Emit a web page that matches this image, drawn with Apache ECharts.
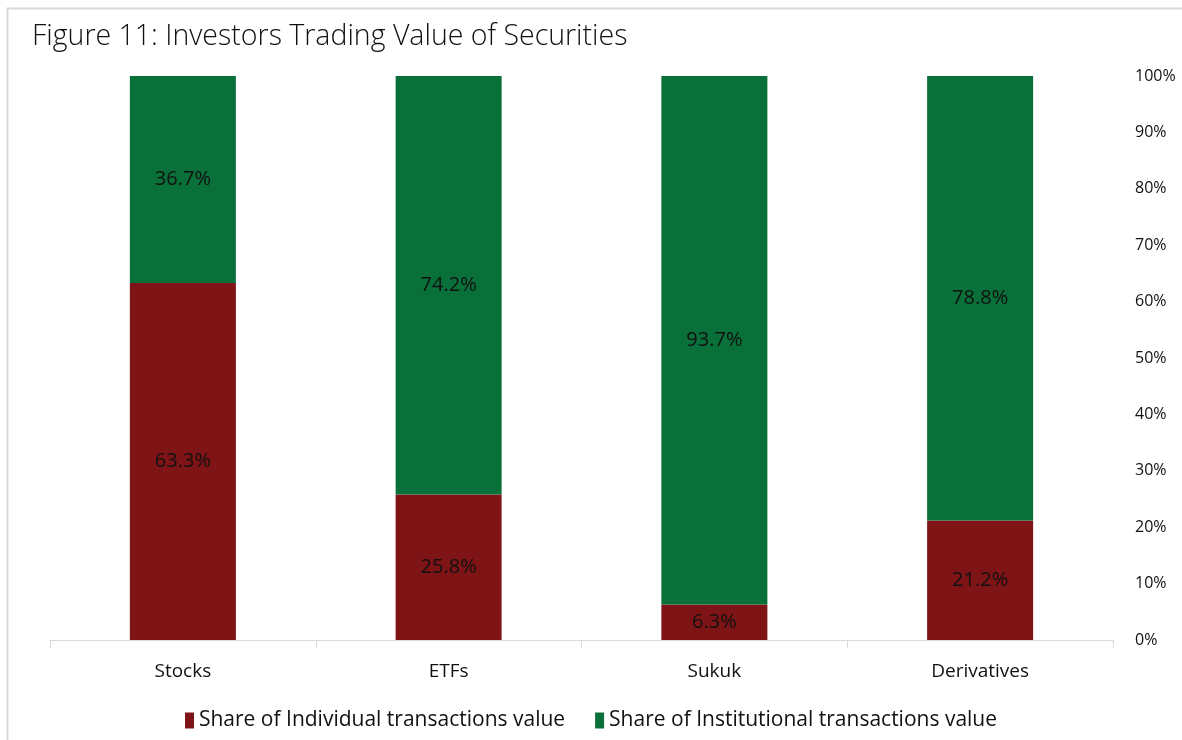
<!DOCTYPE html>
<html>
<head>
<meta charset="utf-8">
<script src="https://cdn.jsdelivr.net/npm/echarts@6/dist/echarts.min.js"></script>
<style>
html,body{margin:0;padding:0;background:#fff;}
#chart{width:1182px;height:740px;}
</style>
</head>
<body>
<div id="chart"></div>
<script>
const categories = ['Stocks', 'ETFs', 'Sukuk', 'Derivatives'];
const individualShare = [63.3, 25.8, 6.3, 21.2];
const institutionalShare = [36.7, 74.2, 93.7, 78.8];
const seriesNames = ['Share of Individual transactions value', 'Share of Institutional transactions value'];
const yTicks = [0, 10, 20, 30, 40, 50, 60, 70, 80, 90, 100];

const FONT = '"Open Sans", "Noto Sans", sans-serif';
const chart = echarts.init(document.getElementById('chart'));
const labelCfg = {
  show: true,
  position: 'inside',
  color: '#111',
  fontSize: 20,
  fontFamily: FONT,
  formatter: p => p.value.toFixed(1) + '%'
};
chart.setOption({
  backgroundColor: '#fff',
  animation: false,
  graphic: [{
    type: 'rect',
    shape: { x: 7.5, y: 8.5, width: 1300, height: 900 },
    style: { fill: 'none', stroke: '#d9d9d9', lineWidth: 2 },
    silent: true
  }],
  title: {
    text: 'Figure 11: Investors Trading Value of Securities',
    left: 27, top: 17,
    textStyle: { fontFamily: FONT, fontWeight: 300, fontSize: 28.5, color: '#111' }
  },
  legend: {
    bottom: 4, left: 'center',
    itemWidth: 9, itemHeight: 16, itemGap: 30,
    icon: 'rect',
    textStyle: { fontFamily: FONT, fontSize: 21, color: '#111' },
    data: seriesNames
  },
  grid: { left: 50, right: 69, top: 76, bottom: 100 },
  xAxis: {
    type: 'category',
    data: categories,
    axisLine: { lineStyle: { color: '#d9d9d9', width: 1 } },
    axisTick: { show: true, length: 8, lineStyle: { color: '#d9d9d9' } },
    axisLabel: { fontFamily: FONT, fontSize: 19, color: '#111', margin: 22 }
  },
  yAxis: {
    type: 'value',
    position: 'right',
    min: 0, max: 100, interval: 10,
    splitLine: { show: false },
    axisLine: { show: false },
    axisTick: { show: false },
    axisLabel: {
      fontFamily: FONT, fontSize: 16, color: '#111', margin: 22,
      formatter: v => yTicks.includes(v) ? v + '%' : ''
    }
  },
  series: [{
    name: seriesNames[0],
    type: 'bar', stack: 'total',
    barWidth: 106,
    data: individualShare,
    itemStyle: { color: '#7f1416' },
    label: labelCfg
  }, {
    name: seriesNames[1],
    type: 'bar', stack: 'total',
    barWidth: 106,
    data: institutionalShare,
    itemStyle: { color: '#0a7039' },
    label: labelCfg
  }]
});
</script>
</body>
</html>
